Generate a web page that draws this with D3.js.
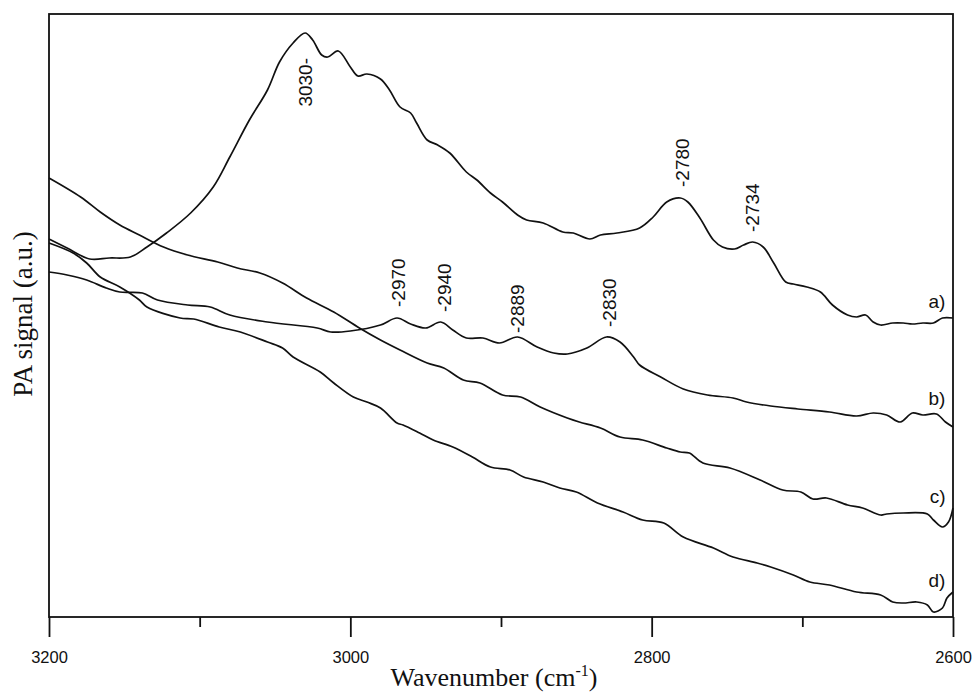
<!DOCTYPE html>
<html>
<head>
<meta charset="utf-8">
<script src="https://cdn.jsdelivr.net/npm/d3@7"></script>
<style>
  body { margin: 0; background: #fff; }
  svg { display: block; }
</style>
</head>
<body>
<div id="chart"></div>
<script>
const w = 972;
const h = 695;
const margin = {top: 14, right: 19, bottom: 78, left: 49};

// spectra, wavenumber (cm-1) and signal (a.u.)
const waveA = [3200,3188,3173,3160,3146,3135,3122,3106,3091,3080,3067,3055,3047,3038,3030,3025,3019,3015,3008,3000,2995,2989,2980,2974,2967,2960,2956,2949,2942,2934,2923,2916,2907,2899,2889,2883,2872,2859,2852,2841,2834,2823,2808,2799,2790,2781,2776,2768,2759,2753,2745,2739,2733,2726,2719,2711,2706,2697,2688,2680,2670,2664,2658,2653,2648,2640,2633,2627,2620,2613,2607,2600];
const signalA = [37.8,36.9,35.8,35.9,36.0,37.0,38.4,40.4,43.0,46.0,49.7,52.7,55.5,57.4,58.4,57.7,56.2,56.0,56.6,55.0,54.1,54.3,53.8,52.7,51.0,50.4,49.4,47.7,47.2,46.4,44.5,43.7,42.4,41.5,40.2,39.7,39.4,38.5,38.4,37.8,38.2,38.4,38.9,40.0,41.5,41.9,41.5,39.9,37.7,37.0,36.8,37.2,37.5,37.0,35.4,33.5,33.3,33.0,32.5,31.2,30.2,30.0,30.2,29.5,29.2,29.4,29.4,29.3,29.4,29.4,29.9,29.9];

const waveB = [3200,3188,3175,3162,3153,3138,3128,3108,3093,3080,3055,3022,3013,3000,2980,2969,2960,2950,2940,2932,2923,2912,2901,2889,2876,2865,2856,2843,2830,2821,2812,2808,2794,2779,2763,2746,2737,2721,2703,2682,2664,2653,2644,2635,2627,2620,2611,2605,2600];
const signalB = [34.5,34.2,33.7,32.9,32.5,32.4,31.7,31.2,31.0,30.2,29.5,28.9,28.5,28.6,29.2,29.9,29.3,28.9,29.5,28.7,27.9,27.9,27.4,28.0,27.0,26.4,26.3,26.9,28.0,27.5,26.0,25.2,24.0,22.8,22.2,21.9,21.5,21.1,20.8,20.5,20.1,20.4,20.2,19.5,20.4,20.2,20.3,19.5,19.0];

const waveC = [3200,3179,3166,3153,3140,3124,3108,3088,3075,3060,3045,3029,3011,2994,2980,2967,2949,2938,2925,2914,2899,2887,2874,2856,2848,2834,2821,2806,2790,2781,2775,2766,2748,2728,2713,2701,2693,2684,2670,2660,2648,2644,2633,2617,2613,2607,2603,2600];
const signalC = [43.9,42.0,40.5,39.2,38.2,37.0,36.2,35.5,34.9,34.4,33.4,31.9,30.5,28.9,27.7,26.7,25.4,24.9,23.7,23.4,22.2,22.0,21.0,19.9,19.5,18.9,18.0,17.7,16.9,16.5,16.4,15.4,14.9,13.7,12.7,12.5,11.8,11.9,11.2,10.9,10.2,10.3,10.4,10.3,9.7,9.0,9.5,10.9];

const waveD = [3200,3184,3175,3166,3153,3140,3135,3113,3104,3087,3073,3055,3045,3038,3020,3011,2998,2989,2980,2969,2965,2954,2945,2932,2919,2907,2894,2885,2872,2861,2850,2836,2819,2806,2792,2779,2759,2746,2730,2721,2706,2695,2682,2664,2648,2640,2633,2624,2617,2613,2607,2604,2600];
const signalD = [37.4,36.4,35.4,34.0,33.0,31.7,31.0,29.9,29.8,29.0,28.5,27.5,26.9,26.0,24.5,23.4,22.0,21.5,20.9,19.4,19.2,18.4,17.7,17.0,16.0,15.0,14.7,14.0,13.5,12.9,12.5,11.4,10.5,9.7,9.4,8.0,6.9,6.0,5.4,5.0,4.2,3.5,3.2,2.5,2.2,1.5,1.4,1.5,1.2,0.5,0.9,1.9,2.5];

// band labels: text, wavenumber, signal at the label's foot
const peakText = ["3030-","-2970","-2940","-2889","-2830","-2780","-2734"];
const peakWave = [3030,2968,2938,2889,2828,2780,2733];
const peakSignal = [55.9,31.0,30.5,28.4,29.0,43.0,38.5];

const curveNames = ["a)","b)","c)","d)"];
const curveNameSignal = [30.9,21.2,11.4,3.0];
const curveNameWave = 2605;

const majorTicks = [3200,3000,2800,2600];
const minorTicks = [3100,2900,2700];

const series = [
  d3.zip(waveA, signalA),
  d3.zip(waveB, signalB),
  d3.zip(waveC, signalC),
  d3.zip(waveD, signalD)
];

const x = d3.scaleLinear()
  .domain([3200, 2600])
  .range([margin.left, w - margin.right]);

const y = d3.scaleLinear()
  .domain([0, 60.3])
  .range([h - margin.bottom, margin.top]);

const svg = d3.select("#chart")
  .append("svg")
  .attr("width", w)
  .attr("height", h);

const line = d3.line()
  .x(d => x(d[0]))
  .y(d => y(d[1]))
  .curve(d3.curveCatmullRom.alpha(0.5));

svg.selectAll("path.spectrum")
  .data(series)
  .enter()
  .append("path")
  .attr("class", "spectrum")
  .attr("d", line)
  .attr("fill", "none")
  .attr("stroke", "#111")
  .attr("stroke-width", 1.7)
  .attr("stroke-linejoin", "round");

// frame
svg.append("rect")
  .attr("x", x(3200))
  .attr("y", y(60.3))
  .attr("width", x(2600) - x(3200))
  .attr("height", y(0) - y(60.3))
  .attr("fill", "none")
  .attr("stroke", "#111")
  .attr("stroke-width", 1.8);

const xAxis = svg.append("g")
  .attr("transform", "translate(0," + y(0) + ")")
  .call(d3.axisBottom(x).tickValues(majorTicks).tickSize(20).tickPadding(14).tickFormat(d3.format("d")));

const xMinor = svg.append("g")
  .attr("transform", "translate(0," + y(0) + ")")
  .call(d3.axisBottom(x).tickValues(minorTicks).tickSize(10).tickFormat(""));

svg.selectAll(".domain").remove();
svg.selectAll(".tick line").attr("stroke", "#111").attr("stroke-width", 1.8);
xAxis.selectAll("text")
  .attr("fill", "#111")
  .style("font-family", "'Liberation Sans', Arial, sans-serif")
  .style("font-size", "16.5px");

// peak labels
svg.selectAll("text.peak")
  .data(peakText)
  .enter()
  .append("text")
  .attr("class", "peak")
  .attr("transform", (d, i) => "translate(" + x(peakWave[i]) + "," + y(peakSignal[i]) + ")rotate(-90)")
  .attr("dy", "0.36em")
  .attr("text-anchor", d => d.endsWith("-") ? "end" : "start")
  .style("font-family", "'Liberation Sans', Arial, sans-serif")
  .style("font-size", "19px")
  .attr("fill", "#111")
  .text(d => d);

// curve names
svg.selectAll("text.name")
  .data(curveNames)
  .enter()
  .append("text")
  .attr("class", "name")
  .attr("x", x(curveNameWave))
  .attr("y", (d, i) => y(curveNameSignal[i]))
  .attr("text-anchor", "end")
  .style("font-family", "'Liberation Sans', Arial, sans-serif")
  .style("font-size", "19px")
  .attr("fill", "#111")
  .text(d => d);

// axis titles
const xTitle = svg.append("text")
  .attr("x", (x(3200) + x(2600)) / 2 - 7)
  .attr("y", 686)
  .attr("text-anchor", "middle")
  .style("font-family", "'Liberation Serif', 'Times New Roman', serif")
  .style("font-size", "26px")
  .attr("fill", "#111");
xTitle.append("tspan").text("Wavenumber (cm");
xTitle.append("tspan").attr("dy", -10).style("font-size", "16px").text("-1");
xTitle.append("tspan").attr("dy", 10).text(")");

svg.append("text")
  .attr("transform", "translate(32," + 314 + ")rotate(-90)")
  .attr("text-anchor", "middle")
  .style("font-family", "'Liberation Serif', 'Times New Roman', serif")
  .style("font-size", "27px")
  .attr("fill", "#111")
  .text("PA signal (a.u.)");
</script>
</body>
</html>
